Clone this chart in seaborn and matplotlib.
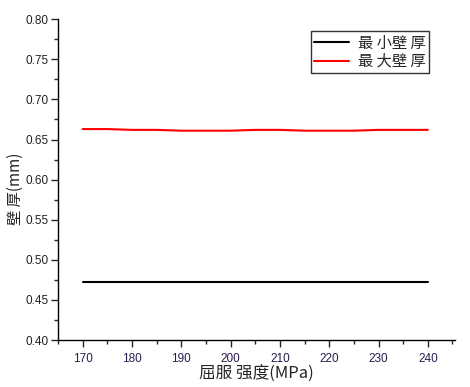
import numpy as np
import pandas as pd
import seaborn as sns
import matplotlib.pyplot as plt
from matplotlib.ticker import MultipleLocator

# duomenys nuskaityti nuo paveikslo
strength = [170, 175, 180, 185, 190, 195, 200, 205, 210, 215, 220, 225, 230, 235, 240]
min_wall = [0.472] * 15
max_wall = [0.663, 0.663, 0.662, 0.662, 0.661, 0.661, 0.661, 0.662, 0.662,
            0.661, 0.661, 0.661, 0.662, 0.662, 0.662]

df = pd.DataFrame({'x': strength * 2,
                   'y': min_wall + max_wall,
                   'serija': ['最 小壁 厚'] * 15 + ['最 大壁 厚'] * 15})

sns.set_style('ticks')
plt.rcParams['font.family'] = ['Liberation Sans', 'Noto Sans CJK SC', 'DejaVu Sans']

fig = plt.figure(figsize=(4.7, 3.87), dpi=100)
ax = fig.add_axes([0.1234, 0.1214, 0.8446, 0.829])

sns.lineplot(data=df, x='x', y='y', hue='serija',
             palette=['black', 'red'], linewidth=1.5, ax=ax)

ax.set_xlim(165, 245.5)
ax.set_ylim(0.40, 0.80)
ax.xaxis.set_major_locator(MultipleLocator(10))
ax.xaxis.set_minor_locator(MultipleLocator(5))
ax.yaxis.set_major_locator(MultipleLocator(0.05))
ax.yaxis.set_minor_locator(MultipleLocator(0.025))
ax.yaxis.set_major_formatter(plt.FormatStrFormatter('%.2f'))
ax.tick_params(which='major', length=5, width=1, labelsize=8.5, direction='out')
ax.tick_params(which='minor', length=3, width=1, direction='out')
ax.tick_params(axis='x', labelcolor='#2a1a50', pad=4)
ax.tick_params(axis='y', labelcolor='#222222', pad=1.5)
for s in ['top', 'right']:
    ax.spines[s].set_visible(False)
for s in ['left', 'bottom']:
    ax.spines[s].set_linewidth(1)
    ax.spines[s].set_color('black')

cjk = ['Noto Sans CJK SC', 'DejaVu Sans']
ax.set_xlabel('屈服 强度(MPa)', fontsize=12, family=cjk, labelpad=1)
ax.set_ylabel('壁 厚(mm)', fontsize=11, family=cjk)
ax.yaxis.set_label_coords(-0.085, 0.47)

leg = ax.legend(loc='upper right', bbox_to_anchor=(0.935, 0.962), frameon=True,
                fancybox=False, edgecolor='black', handlelength=2.3,
                handletextpad=0.6, borderpad=0.2, labelspacing=0.1,
                borderaxespad=0, prop={'family': cjk, 'size': 11})
leg.get_frame().set_linewidth(1)

fig.savefig('out.png', dpi=100)
